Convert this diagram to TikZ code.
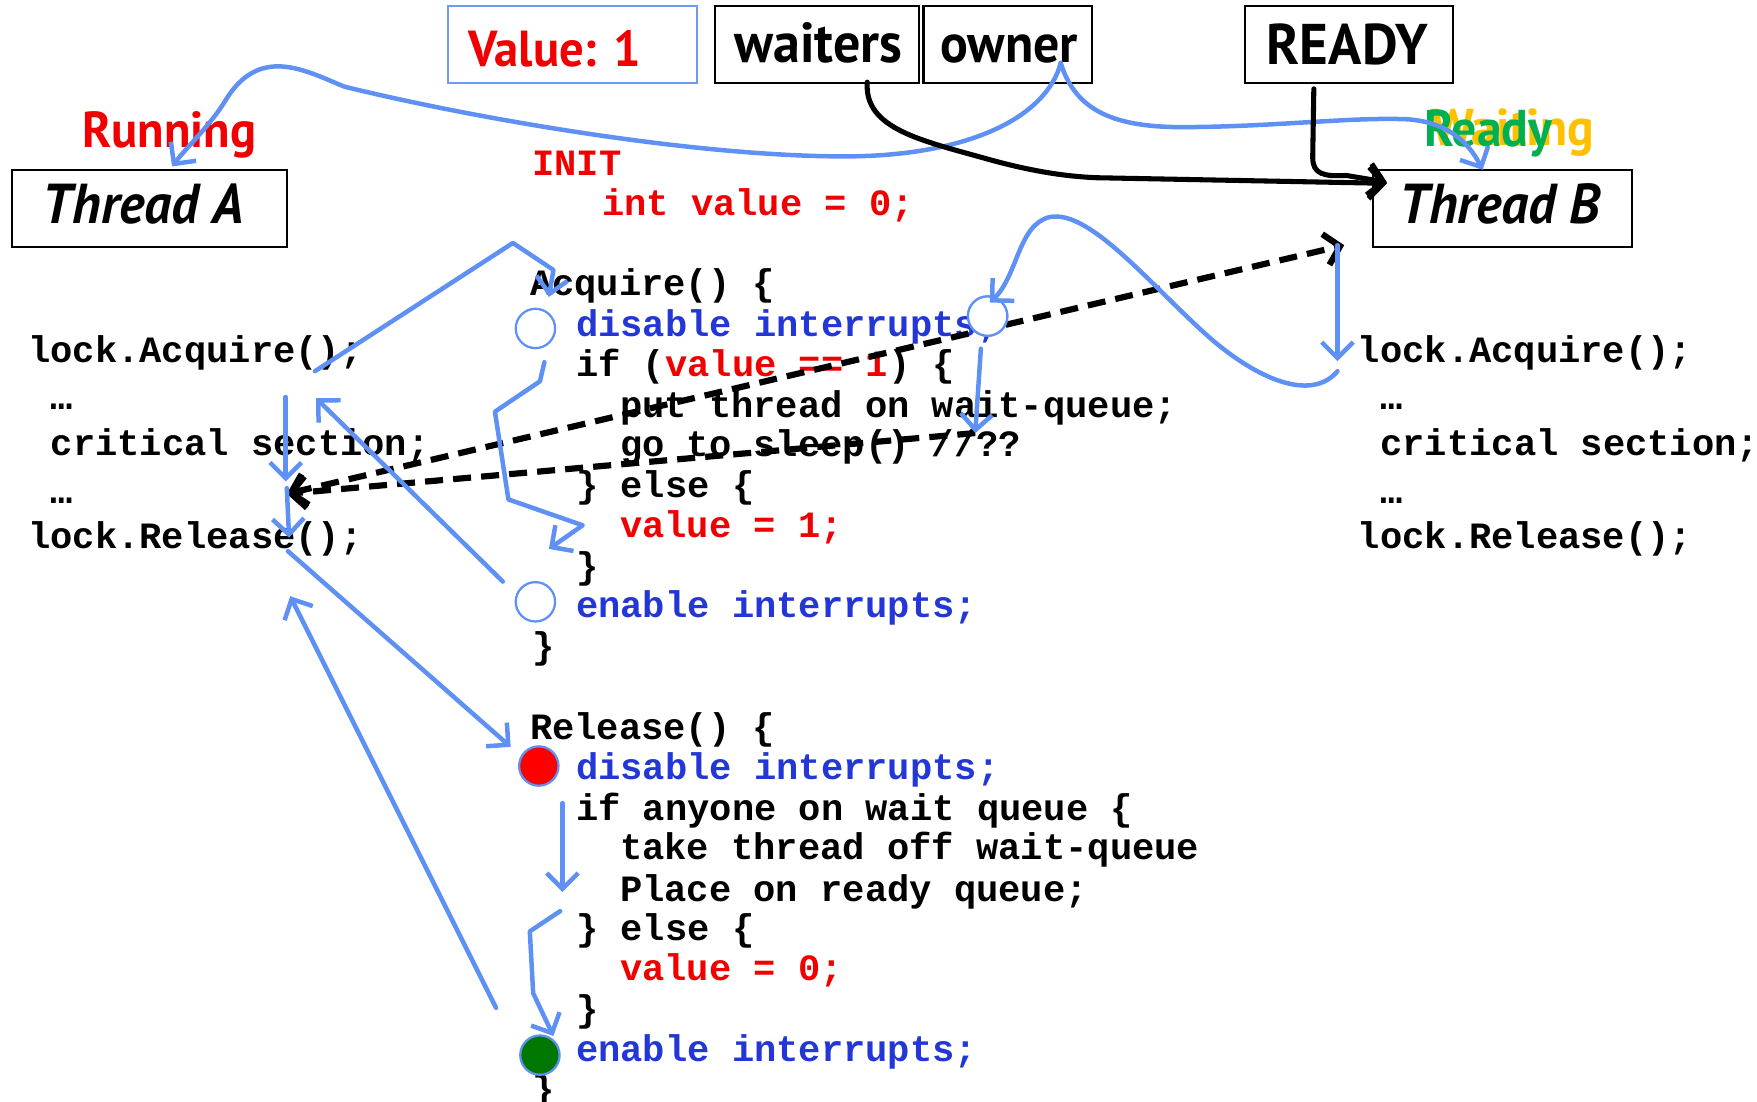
\documentclass[tikz,border=0pt]{standalone}
\usepackage{fontspec}
\setmainfont{PT Sans}
\newfontfamily\codefont{Liberation Mono}
\newfontfamily\handfont[FakeStretch=0.96]{PT Sans}
\usetikzlibrary{arrows.meta}
\definecolor{abl}{RGB}{95,145,245}
\definecolor{codeblue}{RGB}{35,55,215}
\definecolor{codered}{RGB}{240,0,0}
\definecolor{boxblue}{RGB}{110,155,240}
\definecolor{rdygreen}{RGB}{0,176,80}
\definecolor{waitgold}{RGB}{255,192,0}
\definecolor{dotgreen}{RGB}{0,120,0}
\pgfdeclarelayer{txt}
\pgfdeclarelayer{dash}
\pgfsetlayers{txt,dash,main}
\tikzset{
  code/.style={font={\codefont\bfseries\fontsize{33pt}{36pt}\selectfont}, anchor=base west, inner sep=0pt},
  hand/.style={font={\handfont\bfseries\fontsize{#1}{#1}\selectfont}, anchor=base west, inner sep=0pt},
  hand/.default={44pt},
  handit/.style={font={\handfont\bfseries\itshape\fontsize{#1}{#1}\selectfont}, anchor=base west, inner sep=0pt},
  box/.style={draw=black, line width=1.8pt, inner sep=0pt},
  dot/.style={circle, draw=abl, line width=2pt, fill=white, minimum size=35pt, inner sep=0pt},
  barrow/.style={draw=abl, line width=4pt, line cap=round, line join=round, -{Straight Barb[length=14pt, width=28pt]}},
  karrow/.style={draw=black, line width=4.5pt, line cap=round, -{Straight Barb[length=13pt, width=28pt]}},
  kdash/.style={draw=black, line width=5.5pt, dash pattern=on 16pt off 9pt},
}
\begin{document}
\begin{tikzpicture}[x=1pt,y=-1pt]
\useasboundingbox (0,0) rectangle (1562,979);

% ---------- boxes ----------
\node[box, draw=boxblue, minimum width=222pt, minimum height=69pt] (valbox) at (509,39.5) {};
\node[box, minimum width=181pt, minimum height=69pt] (waitbox) at (726.5,39.5) {};
\node[box, minimum width=150pt, minimum height=69pt] (ownbox) at (896,39.5) {};
\node[box, minimum width=185pt, minimum height=69pt] (readybox) at (1199.5,39.5) {};
\node[box, minimum width=244pt, minimum height=69pt] (thA) at (133,185.5) {};
\node[box, minimum width=230pt, minimum height=69pt] (thB) at (1336,185.5) {};

\begin{pgfonlayer}{txt}
\node[hand=45pt, text=codered] (valtxt) at (416,59) {Value: 1};
\node[hand=50pt] (waittxt) at (653,56) {waiters};
\node[hand=48pt] (owntxt) at (836,56) {owner};
\node[hand=51pt] (readytxt) at (1126,57) {READY};
\node[handit=50pt] (thAtxt) at (38,199) {Thread A};
\node[handit=50pt] (thBtxt) at (1244,199) {Thread B};
\node[hand=45pt, text=codered] (running) at (73,131) {Running};
\node[hand=46pt, text=waitgold] (waiting) at (1272,129) {Waiting};
\node[hand=46pt, text=rdygreen] (readylbl) at (1266,130) {Ready};

% ---------- code ----------
\node[code, text=codered] (init) at (473,156) {INIT};
\node[code, text=codered] (intv) at (535,192) {int value = 0;};

\node[code] (acq) at (471,263) {Acquire() \{};
\node[code, text=codeblue] (acqdis) at (512,299) {disable interrupts;};
\node[code] (acqif) at (512,335) {if (\textcolor{codered}{value == 1}) \{};
\node[code] (acqput) at (551,371) {put thread on wait-queue;};
\node[code] (acqgo) at (551,406) {go to sleep() //??};
\node[code] (acqelse) at (512,442) {\} else \{};
\node[code, text=codered] (acqval) at (551,478) {value = 1;};
\node[code] (acqcl1) at (512,514) {\}};
\node[code, text=codeblue] (acqen) at (512,549) {enable interrupts;};
\node[code] (acqcl2) at (473,585) {\}};

\node[code] (rel) at (471,657) {Release() \{};
\node[code, text=codeblue] (reldis) at (512,693) {disable interrupts;};
\node[code] (relif) at (512,729) {if anyone on wait queue \{};
\node[code] (reltake) at (551,764) {take thread off wait-queue};
\node[code] (relplace) at (551,801) {Place on ready queue;};
\node[code] (relelse) at (512,836) {\} else \{};
\node[code, text=codered] (relval) at (551,872) {value = 0;};
\node[code] (relcl1) at (512,908) {\}};
\node[code, text=codeblue] (relen) at (512,944) {enable interrupts;};
\node[code] (relcl2) at (473,979) {\}};

\node[code] (aAcq) at (25,322) {lock.Acquire();};
\node[code] (aDots1) at (45,364) {…};
\node[code] (aCrit) at (45,405) {critical section;};
\node[code] (aDots2) at (45,448) {…};
\node[code] (aRel) at (25,488) {lock.Release();};

\node[code] (bAcq) at (1207,322) {lock.Acquire();};
\node[code] (bDots1) at (1227,364) {…};
\node[code] (bCrit) at (1227,405) {critical section;};
\node[code] (bDots2) at (1227,448) {…};
\node[code] (bRel) at (1207,488) {lock.Release();};
\end{pgfonlayer}

% ---------- circles ----------
\node[dot] (c1) at (476,292) {};
\node[dot] (c2) at (878,281) {};
\node[dot] (c3) at (476,535) {};
\node[dot, fill=red] (c4) at (479,681) {};
\node[dot, fill=dotgreen] (c5) at (480,938) {};

% ---------- coordinates ----------
\coordinate (ownA) at (943,56);
\coordinate (runTip) at (153,148);
\coordinate (thBtip) at (1318,151);
\coordinate (waitS) at (771,73);
\coordinate (tipB1) at (1233,163);
\coordinate (readyS) at (1168,79);
\coordinate (tipB2) at (1233,162);
\coordinate (acqA) at (280,330);
\coordinate (acqTip) at (488,264);
\coordinate (c1s) at (484,322);
\coordinate (valTip) at (488,488);
\coordinate (c3w) at (447,517);
\coordinate (aAcqTip) at (281,354);
\coordinate (vA1) at (254,353);
\coordinate (vA2) at (254,428);
\coordinate (vA3) at (255,434);
\coordinate (vA4) at (257,478);
\coordinate (aRelS) at (256,490);
\coordinate (c4tip) at (454,664);
\coordinate (relD1) at (500,714);
\coordinate (relD2) at (500,793);
\coordinate (relZ) at (498,810);
\coordinate (c5tip) at (492,921);
\coordinate (c5w) at (441,896);
\coordinate (aRelTip) at (258,530);
\coordinate (bV1) at (1189,218);
\coordinate (bV2) at (1189,321);
\coordinate (bLoop) at (1189,330);
\coordinate (c2tip) at (880,269);
\coordinate (c2s) at (872,310);
\coordinate (sleepTip) at (867,385);
\coordinate (dashL) at (255,439);
\coordinate (dashR) at (1195,218);

% ---------- dashed black arrows ----------
\begin{pgfonlayer}{dash}
\draw[kdash, {Straight Barb[length=13pt, width=28pt]}-{Straight Barb[length=13pt, width=28pt]}] (dashL) -- (dashR);
\draw[kdash, -{Straight Barb[length=13pt, width=28pt]}] (sleepTip) -- (dashL);
\end{pgfonlayer}

% ---------- redraw circle c2 over the dashes ----------
\node[dot] at (c2) {};

% ---------- blue arrows ----------
\draw[barrow] (ownA) .. controls (930,105) and (860,138) .. (756,139)
  .. controls (620,140) and (420,105) .. (306,77)
  .. controls (270,62) and (230,40) .. (200,90)
  .. controls (188,110) and (165,132) .. (runTip);
\draw[barrow] (ownA) .. controls (955,95) and (985,113) .. (1050,113)
  .. controls (1130,113) and (1200,104) .. (1250,106)
  .. controls (1285,108) and (1305,125) .. (thBtip);

\draw[barrow] (acqA) -- (456,216) -- (492,240) -- (acqTip);
\draw[barrow] (c1s) -- (480,339) -- (440,366) -- (452,444) -- (518,467) -- (valTip);
\draw[barrow] (c3w) -- (aAcqTip);
\draw[barrow] (vA1) -- (vA2);
\draw[barrow] (vA3) -- (vA4);
\draw[barrow] (aRelS) -- (c4tip);
\draw[barrow] (relD1) -- (relD2);
\draw[barrow] (relZ) -- (471,828) -- (474,883) -- (c5tip);
\draw[barrow] (c5w) -- (aRelTip);
\draw[barrow] (bV1) -- (bV2);
\draw[barrow] (bLoop) .. controls (1170,353) and (1130,345) .. (1081,305)
  .. controls (1030,262) and (970,185) .. (933,193)
  .. controls (905,200) and (905,245) .. (c2tip);
\draw[barrow] (c2s) -- (sleepTip);

% ---------- black solid arrows ----------
\draw[karrow] (waitS) .. controls (768,115) and (820,125) .. (880,142)
  .. controls (920,153) and (950,157) .. (975,158) -- (tipB1);
\draw[karrow] (readyS) -- (1167,140) .. controls (1167,155) and (1177,157) .. (1197,156) -- (tipB2);
\end{tikzpicture}
\end{document}
